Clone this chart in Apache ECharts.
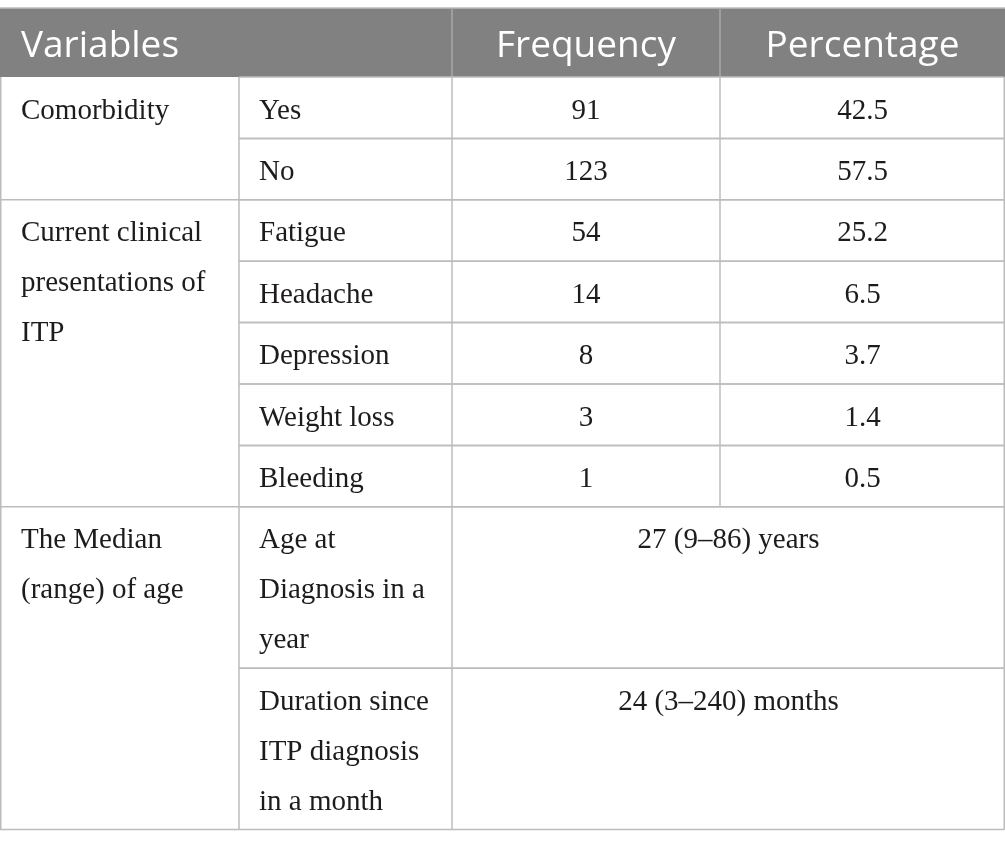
<!DOCTYPE html>
<html><head><meta charset="utf-8">
<script src="https://cdn.jsdelivr.net/npm/echarts@6/dist/echarts.min.js"></script>
<style>html,body{margin:0;padding:0;background:#fff}#chart{width:1005px;height:848px}</style>
</head><body><div id="chart"></div>
<script>
// ---------- data ----------
const headerLabels = ['Variables', 'Frequency', 'Percentage'];
const groupLabels = ['Comorbidity', 'Current clinical\npresentations of\nITP', 'The Median\n(range) of age'];
const groupSizes = [2, 5, 2];
const itemLabels = ['Yes', 'No', 'Fatigue', 'Headache', 'Depression', 'Weight loss', 'Bleeding',
  'Age at\nDiagnosis in a\nyear', 'Duration since\nITP diagnosis\nin a month'];
const frequency = [91, 123, 54, 14, 8, 3, 1, null, null];
const percentage = [42.5, 57.5, 25.2, 6.5, 3.7, 1.4, 0.5, null, null];
const spanningValues = [null, null, null, null, null, null, null, '27 (9–86) years', '24 (3–240) months'];

// ---------- layout ----------
const COL_EDGES = [0, 239, 452, 720, 1005];
const HEADER_SPANS = [[0, 2], [2, 3], [3, 4]];
const HEADER_H = 69, LINE_H = 50, ROW_PAD = 11.4;
const PAD_X = 21, TEXT_TOP = 9;
const BORDER = '#bcbcbc', HEADER_BG = '#808180', HEADER_DIV = '#a9a9a9', TEXT = '#1e1b1c';
const SERIF = '"Liberation Serif", "Times New Roman", serif';
const SANS = '"Open Sans", "Noto Sans", sans-serif';
const BODY_SIZE = 29, HEAD_SIZE = 37, LW = 1.5;

const nLines = s => String(s).split('\n').length;
const rowHeights = itemLabels.map(s => nLines(s) * LINE_H + ROW_PAD);
const rowTops = [];
let acc = HEADER_H;
rowHeights.forEach(h => { rowTops.push(acc); acc += h; });
const TOTAL_H = acc;
const groupStart = [];
let k = 0;
groupSizes.forEach(n => { groupStart.push(k); k += n; });

function line(api, x1, y1, x2, y2, color) {
  const a = api.coord([x1, y1]), b = api.coord([x2, y2]);
  return { type: 'line', shape: { x1: a[0], y1: a[1], x2: b[0], y2: b[1] },
    style: { stroke: color || BORDER, lineWidth: LW } };
}
function text(api, x, y, str, opt) {
  const p = api.coord([x, y]);
  return { type: 'text', style: Object.assign({ text: str, x: p[0], y: p[1], fill: TEXT,
    fontFamily: SERIF, fontSize: BODY_SIZE, lineHeight: LINE_H, align: 'left', verticalAlign: 'top' }, opt || {}) };
}

function renderHeader(params, api) {
  const c = params.dataIndex;
  const [s, e] = HEADER_SPANS[c];
  const x0 = COL_EDGES[s], x1 = COL_EDGES[e];
  const a = api.coord([x0, 0]), b = api.coord([x1, HEADER_H]);
  const children = [{ type: 'rect', shape: { x: a[0], y: a[1], width: b[0] - a[0], height: b[1] - a[1] },
    style: { fill: HEADER_BG } }];
  children.push(line(api, x0, 0, x1, 0, BORDER));
  if (s > 0) children.push(line(api, x0, 0, x0, HEADER_H, HEADER_DIV));
  const isLeft = c === 0;
  children.push(text(api, isLeft ? x0 + PAD_X : (x0 + x1) / 2, HEADER_H / 2 + 4, headerLabels[c], {
    fill: '#ffffff', fontFamily: SANS, fontSize: HEAD_SIZE, lineHeight: HEAD_SIZE,
    align: isLeft ? 'left' : 'center', verticalAlign: 'middle' }));
  return { type: 'group', children };
}

function renderGroup(params, api) {
  const g = params.dataIndex;
  const top = rowTops[groupStart[g]];
  const last = groupStart[g] + groupSizes[g] - 1;
  const bottom = rowTops[last] + rowHeights[last];
  return { type: 'group', children: [
    line(api, COL_EDGES[0] + 0.75, top, COL_EDGES[0] + 0.75, bottom),
    line(api, COL_EDGES[1], top, COL_EDGES[1], bottom),
    line(api, COL_EDGES[0], bottom, COL_EDGES[1], bottom),
    text(api, COL_EDGES[0] + PAD_X, top + TEXT_TOP, groupLabels[g])
  ] };
}

function renderItem(params, api) {
  const i = params.dataIndex;
  const top = rowTops[i], bottom = top + rowHeights[i];
  const children = [];
  const right = COL_EDGES[4] - 0.75;
  children.push(line(api, COL_EDGES[1], top, right, top));
  children.push(line(api, COL_EDGES[1], bottom, right, bottom));
  children.push(line(api, COL_EDGES[2], top, COL_EDGES[2], bottom));
  if (spanningValues[i] == null) children.push(line(api, COL_EDGES[3], top, COL_EDGES[3], bottom));
  children.push(line(api, right, top, right, bottom));
  children.push(text(api, COL_EDGES[1] + PAD_X - 1, top + TEXT_TOP, itemLabels[i]));
  if (spanningValues[i] != null) {
    children.push(text(api, (COL_EDGES[2] + COL_EDGES[4]) / 2, top + TEXT_TOP, spanningValues[i], { align: 'center' }));
  } else {
    children.push(text(api, (COL_EDGES[2] + COL_EDGES[3]) / 2, top + TEXT_TOP, String(frequency[i]), { align: 'center' }));
    children.push(text(api, (COL_EDGES[3] + COL_EDGES[4]) / 2, top + TEXT_TOP, percentage[i].toFixed(1), { align: 'center' }));
  }
  return { type: 'group', children };
}

const chart = echarts.init(document.getElementById('chart'), null, { renderer: 'canvas' });
chart.setOption({
  animation: false,
  backgroundColor: '#ffffff',
  grid: { left: 0, right: 0, top: 8, height: TOTAL_H, containLabel: false },
  xAxis: { type: 'value', min: 0, max: COL_EDGES[4], show: false },
  yAxis: { type: 'value', min: 0, max: TOTAL_H, inverse: true, show: false },
  series: [
    { type: 'custom', name: 'header', renderItem: renderHeader, data: headerLabels.map((_, i) => [i, 0]), silent: true, z: 1 },
    { type: 'custom', name: 'items', renderItem: renderItem, data: itemLabels.map((_, i) => [i, rowTops[i]]), silent: true, z: 2 },
    { type: 'custom', name: 'groups', renderItem: renderGroup, data: groupLabels.map((_, g) => [g, rowTops[groupStart[g]]]), silent: true, z: 3 }
  ]
});
</script></body></html>
